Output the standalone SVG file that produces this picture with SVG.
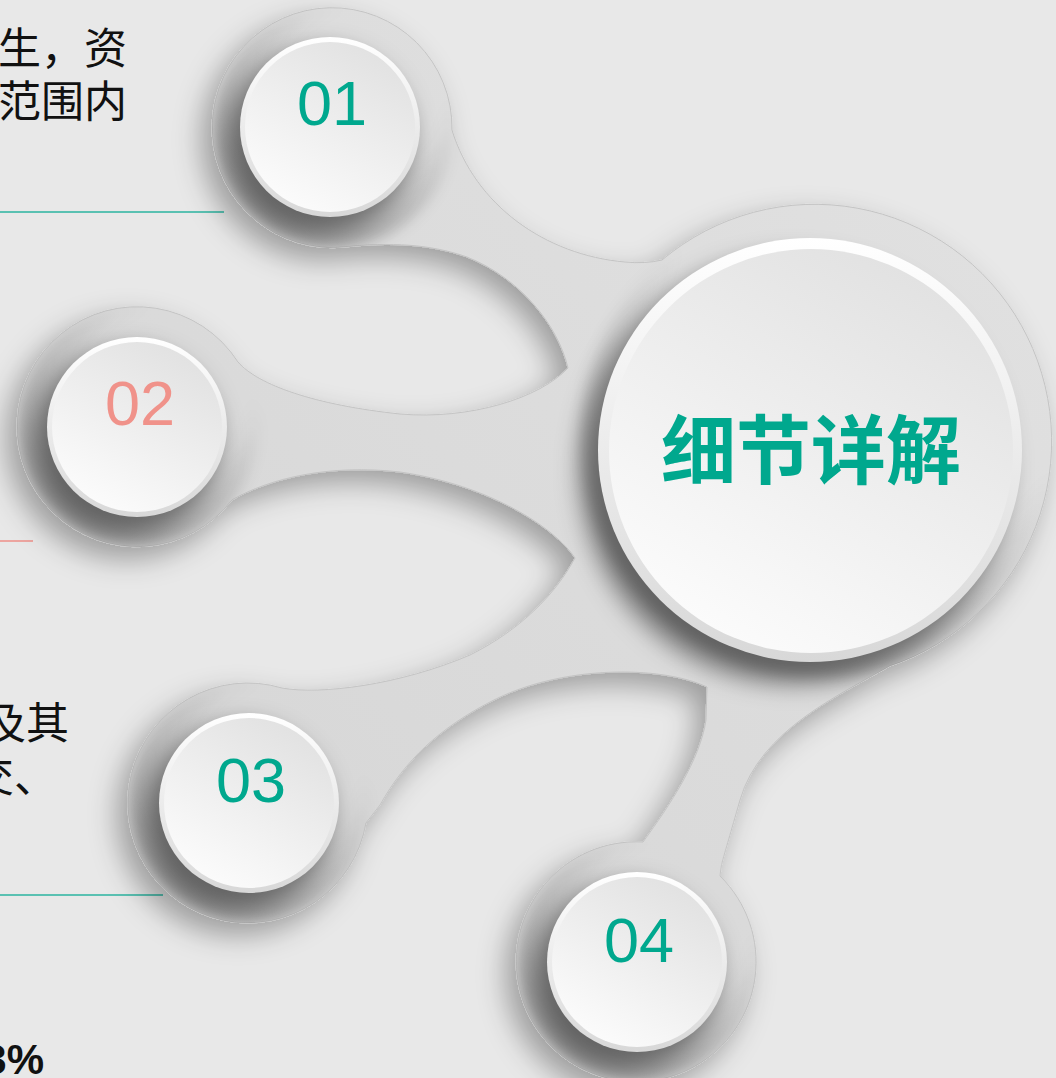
<svg xmlns="http://www.w3.org/2000/svg" xmlns:xlink="http://www.w3.org/1999/xlink" width="1056" height="1078" viewBox="0 0 1056 1078">
<style>
.num{font-family:"Liberation Sans",Arial,sans-serif;font-size:63px;text-anchor:middle}
.teal{fill:#00a88e}
.pink{fill:#f0928a}
.body{font-family:"Noto Sans CJK SC","Noto Sans",sans-serif;font-size:43px;fill:#111}
.title{font-family:"Noto Sans CJK SC","Noto Sans",sans-serif;font-size:75px;font-weight:bold;fill:#00a88e;text-anchor:middle}
.rim{fill:url(#rimGrad)}
.face{fill:url(#faceGrad)}
.shade{fill:#000;fill-opacity:0.45;filter:url(#soft);clip-path:url(#blobClip)}
.ring{fill:url(#ringGrad);filter:url(#soft6);clip-path:url(#blobClip)}
</style>
<defs>
<path id="blobPath" d="M452,130 C475,205 545,255 625,262 Q645,264 662,260 A237,237 0 1 1 890,666 C840,695 760,730 740,800 S722,860 720,876 A120,120 0 1 1 643,842 C670,805 700,760 706,720 L707,687 C660,665 560,665 490,702 C440,728 405,760 380,805 L366,823 A120,120 0 1 1 282,688 C320,695 400,685 470,655 C520,630 555,595 575,558 C555,528 490,485 400,472 C330,464 270,478 232,500 A120,120 0 1 1 238,362 C258,385 315,405 400,414 C470,420 540,398 568,368 C558,325 520,278 467,257 C430,244 390,242 345,247 A120,120 0 1 1 452,130 Z"/>
<clipPath id="blobClip"><use xlink:href="#blobPath"/></clipPath>
<filter id="blobShadow" x="-20%" y="-20%" width="140%" height="140%">
<feDropShadow dx="-10" dy="12" stdDeviation="14" flood-color="#000" flood-opacity="0.32"/>
</filter>
<filter id="soft" x="-50%" y="-50%" width="200%" height="200%">
<feGaussianBlur stdDeviation="12"/>
</filter>
<filter id="soft6" x="-30%" y="-30%" width="160%" height="160%">
<feGaussianBlur stdDeviation="7"/>
</filter>
<radialGradient id="ringGrad" cx="0.62" cy="0.36" r="0.7">
<stop offset="0.5" stop-color="#000" stop-opacity="0"/>
<stop offset="1" stop-color="#000" stop-opacity="0.3"/>
</radialGradient>
<radialGradient id="ringGradC" cx="0.62" cy="0.3" r="0.75">
<stop offset="0.6" stop-color="#000" stop-opacity="0"/>
<stop offset="1" stop-color="#000" stop-opacity="0.22"/>
</radialGradient>
<linearGradient id="blobGrad" x1="1" y1="0" x2="0" y2="1">
<stop offset="0" stop-color="#e2e2e2"/>
<stop offset="1" stop-color="#d4d4d4"/>
</linearGradient>
<linearGradient id="rimGrad" x1="0" y1="0" x2="0" y2="1">
<stop offset="0" stop-color="#ffffff"/>
<stop offset="1" stop-color="#d8d8d8"/>
</linearGradient>
<linearGradient id="faceGrad" x1="0.2" y1="1" x2="0.8" y2="0">
<stop offset="0" stop-color="#fdfdfd"/>
<stop offset="1" stop-color="#e0e0e0"/>
</linearGradient>
</defs>

<rect x="0" y="0" width="1056" height="1078" fill="#e8e8e8"/>

<g id="side-texts">
<text class="body" x="127" y="64" text-anchor="end">生，资</text>
<text class="body" x="127" y="117" text-anchor="end">范围内</text>
<line x1="0" y1="212" x2="224" y2="212" stroke="#2bb5a0" stroke-width="1.5"/>
<line x1="0" y1="541" x2="33" y2="541" stroke="#ef8f88" stroke-width="1.5"/>
<text class="body" x="69" y="739" text-anchor="end">及其</text>
<text class="body" x="-29" y="792">交、</text>
<line x1="0" y1="895" x2="163" y2="895" stroke="#2bb5a0" stroke-width="1.5"/>
<text x="44" y="1074" text-anchor="end" font-family="Liberation Sans, Arial, sans-serif" font-size="42" font-weight="bold" fill="#111">3%</text>
</g>

<g id="connectors">
<use xlink:href="#blobPath" fill="url(#blobGrad)" stroke="#c4c4c4" stroke-width="1" filter="url(#blobShadow)"/>
</g>

<g id="node-center">
<circle class="ring" cx="818" cy="440" r="237" style="fill:url(#ringGradC)"/>
<circle class="shade" cx="794" cy="470" r="214"/>
<circle class="rim" cx="810" cy="450" r="212"/>
<circle class="face" cx="811" cy="451" r="202"/>
<text class="title" x="811" y="478">细节详解</text>
</g>

<g id="node-01">
<circle class="ring" cx="332" cy="128" r="120"/>
<circle class="shade" cx="320" cy="141" r="93"/>
<circle class="rim" cx="330" cy="127" r="90"/>
<circle class="face" cx="330" cy="127" r="85"/>
<text class="num teal" x="332" y="125">01</text>
</g>

<g id="node-02">
<circle class="ring" cx="137" cy="427" r="120"/>
<circle class="shade" cx="127" cy="441" r="93"/>
<circle class="rim" cx="137" cy="427" r="90"/>
<circle class="face" cx="137" cy="427" r="85"/>
<text class="num pink" x="140" y="425">02</text>
</g>

<g id="node-03">
<circle class="ring" cx="248" cy="803" r="120"/>
<circle class="shade" cx="239" cy="817" r="93"/>
<circle class="rim" cx="249" cy="803" r="90"/>
<circle class="face" cx="249" cy="803" r="85"/>
<text class="num teal" x="251" y="802">03</text>
</g>

<g id="node-04">
<circle class="ring" cx="637" cy="962" r="120"/>
<circle class="shade" cx="627" cy="976" r="93"/>
<circle class="rim" cx="637" cy="962" r="90"/>
<circle class="face" cx="637" cy="962" r="85"/>
<text class="num teal" x="639" y="962">04</text>
</g>
</svg>
